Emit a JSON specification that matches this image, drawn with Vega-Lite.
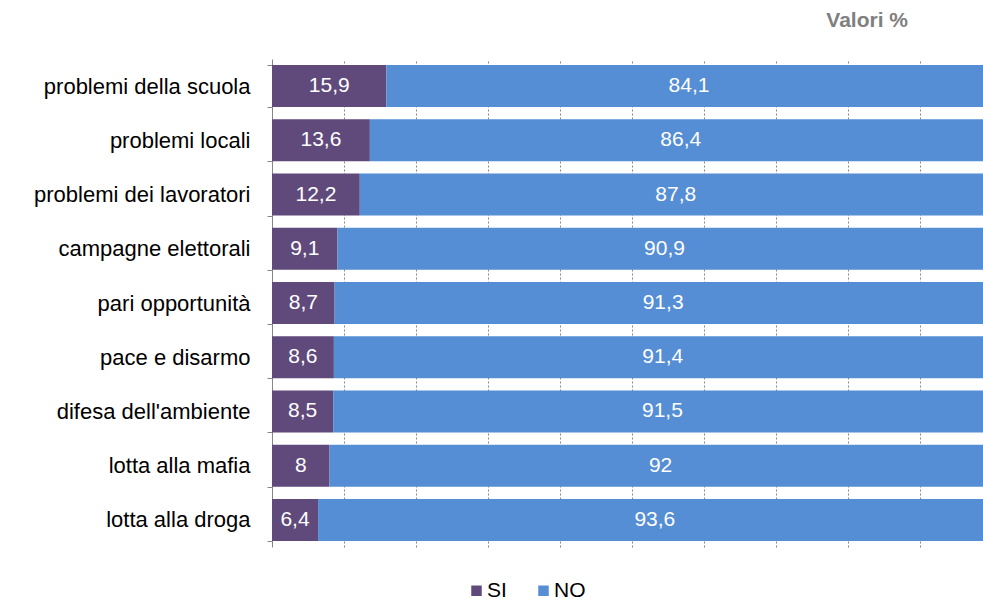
{
  "$schema": "https://vega.github.io/schema/vega-lite/v6.json",
  "autosize": "none",
  "padding": {"left": 272, "top": 59, "right": 0, "bottom": 54},
  "width": 711,
  "height": 488,
  "background": "white",
  "title": {"text": "Valori %", "anchor": "end", "dx": -75, "offset": 17, "fontSize": 21, "fontWeight": "bold", "color": "#808080", "font": "Liberation Sans"},
  "config": {
    "view": {"stroke": null},
    "font": "Liberation Sans",
    "locale": {"number": {"decimal": ",", "thousands": ".", "grouping": [3], "currency": ["", "€"]}}
  },
  "data": {"values": [
    {"cat": "problemi della scuola", "risposta": "SI", "ord": 1, "v": 15.9},
    {"cat": "problemi della scuola", "risposta": "NO", "ord": 2, "v": 84.1},
    {"cat": "problemi locali", "risposta": "SI", "ord": 1, "v": 13.6},
    {"cat": "problemi locali", "risposta": "NO", "ord": 2, "v": 86.4},
    {"cat": "problemi dei lavoratori", "risposta": "SI", "ord": 1, "v": 12.2},
    {"cat": "problemi dei lavoratori", "risposta": "NO", "ord": 2, "v": 87.8},
    {"cat": "campagne elettorali", "risposta": "SI", "ord": 1, "v": 9.1},
    {"cat": "campagne elettorali", "risposta": "NO", "ord": 2, "v": 90.9},
    {"cat": "pari opportunità", "risposta": "SI", "ord": 1, "v": 8.7},
    {"cat": "pari opportunità", "risposta": "NO", "ord": 2, "v": 91.3},
    {"cat": "pace e disarmo", "risposta": "SI", "ord": 1, "v": 8.6},
    {"cat": "pace e disarmo", "risposta": "NO", "ord": 2, "v": 91.4},
    {"cat": "difesa dell'ambiente", "risposta": "SI", "ord": 1, "v": 8.5},
    {"cat": "difesa dell'ambiente", "risposta": "NO", "ord": 2, "v": 91.5},
    {"cat": "lotta alla mafia", "risposta": "SI", "ord": 1, "v": 8},
    {"cat": "lotta alla mafia", "risposta": "NO", "ord": 2, "v": 92},
    {"cat": "lotta alla droga", "risposta": "SI", "ord": 1, "v": 6.4},
    {"cat": "lotta alla droga", "risposta": "NO", "ord": 2, "v": 93.6}
  ]},
  "transform": [
    {"stack": "v", "groupby": ["cat"], "sort": [{"field": "ord", "order": "ascending"}], "as": ["v0", "v1"]},
    {"calculate": "(datum.v0 + datum.v1) / 2", "as": "mid"}
  ],
  "encoding": {
    "y": {
      "field": "cat", "type": "nominal", "sort": null, "title": null,
      "scale": {"paddingInner": 0.225, "paddingOuter": 0.1125},
      "axis": {
        "tickBand": "extent", "domainColor": "#868686", "tickColor": "#868686", "tickSize": 5,
        "labelFontSize": 22, "labelColor": "#000000", "labelPadding": 17, "labelFont": "Liberation Sans", "labelLimit": 300
      }
    }
  },
  "layer": [
    {
      "mark": {"type": "bar", "clip": true},
      "encoding": {
        "x": {
          "field": "v0", "type": "quantitative", "title": null,
          "scale": {"domain": [0, 98.8], "nice": false, "zero": true},
          "axis": {"values": [10, 20, 30, 40, 50, 60, 70, 80, 90], "labels": false, "ticks": false, "domain": false, "grid": true, "gridDash": [2, 2], "gridColor": "#868686", "gridWidth": 1}
        },
        "x2": {"field": "v1"},
        "color": {
          "field": "risposta", "type": "nominal",
          "scale": {"domain": ["SI", "NO"], "range": ["#604A7B", "#558ED5"]},
          "legend": {
            "title": null, "orient": "none", "legendX": 194, "legendY": 521, "direction": "horizontal",
            "symbolType": "square", "symbolSize": 110, "symbolStrokeWidth": 0, "labelFontSize": 21, "labelColor": "#000000",
            "labelFont": "Liberation Sans", "labelOffset": 0, "columnPadding": 26
          }
        }
      }
    },
    {
      "mark": {"type": "text", "color": "white", "fontSize": 21, "font": "Liberation Sans", "align": "center", "baseline": "middle"},
      "encoding": {
        "x": {"field": "mid", "type": "quantitative"},
        "text": {"field": "v", "type": "quantitative", "format": ".1~f"}
      }
    }
  ]
}
